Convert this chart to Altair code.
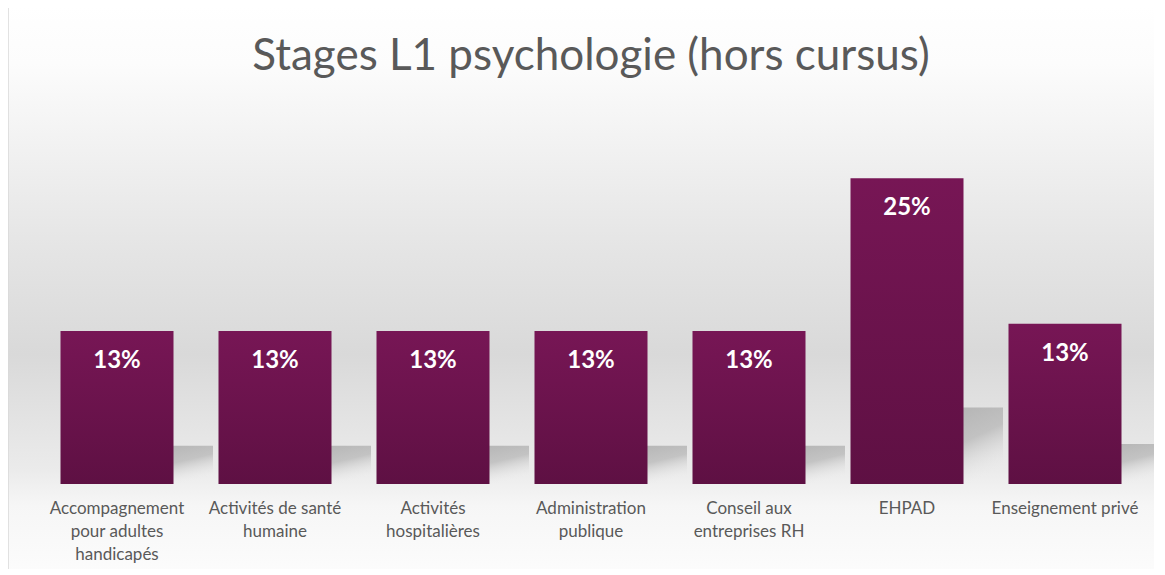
import altair as alt
import pandas as pd

categories = [
    "Accompagnement|pour adultes|handicapés",
    "Activités de santé|humaine",
    "Activités|hospitalières",
    "Administration|publique",
    "Conseil aux|entreprises RH",
    "EHPAD",
    "Enseignement privé",
]
values = [12.5, 12.5, 12.5, 12.5, 12.5, 25.0, 13.1]
labels = ["13%", "13%", "13%", "13%", "13%", "25%", "13%"]
title_text = "Stages L1 psychologie (hors cursus)"

df = pd.DataFrame({"cat": categories, "val": values, "lab": labels})

W = 1106
H = 367
FONT = "Lato"

x_enc = alt.X(
    "cat:N",
    sort=None,
    scale=alt.Scale(paddingInner=0.285, paddingOuter=0.1425),
    axis=alt.Axis(
        title=None,
        labelAngle=0,
        domain=False,
        ticks=False,
        labelExpr="split(datum.value, '|')",
        labelFont=FONT,
        labelFontSize=17,
        labelColor="#595959",
        labelPadding=16,
        labelLineHeight=23,
        labelBaseline="top",
        zindex=2,
    ),
)
y_scale = alt.Scale(domain=[0, 30])

bg = alt.Chart(pd.DataFrame({"a": [0]})).mark_rect(
    fill=alt.Gradient(
        gradient="linear",
        x1=0, y1=0, x2=0, y2=1,
        stops=[
            alt.GradientStop(offset=0.0, color="#ffffff"),
            alt.GradientStop(offset=0.10, color="#fcfcfc"),
            alt.GradientStop(offset=0.40, color="#e6e6e6"),
            alt.GradientStop(offset=0.60, color="#d9d9d9"),
            alt.GradientStop(offset=0.80, color="#ebebeb"),
            alt.GradientStop(offset=0.86, color="#f6f6f6"),
            alt.GradientStop(offset=1.0, color="#fdfdfd"),
        ],
    ),
    stroke="#d9d9d9",
    strokeWidth=1.5,
).encode(
    x=alt.value(-30), x2=alt.value(1125),
    y=alt.value(-112), y2=alt.value(470),
)

shadow = alt.Chart(df).transform_calculate(
    sh="datum.val * 0.25"
).mark_bar(
    xOffset=48,
    size=96,
    fill=alt.Gradient(
        gradient="linear",
        x1=0.1, y1=0, x2=0.7, y2=1,
        stops=[
            alt.GradientStop(offset=0.0, color="rgba(200,200,200,0)"),
            alt.GradientStop(offset=0.2, color="rgba(170,170,170,0.8)"),
            alt.GradientStop(offset=0.55, color="rgba(175,175,175,0.65)"),
            alt.GradientStop(offset=1.0, color="rgba(240,240,240,0)"),
        ],
    ),
).encode(x=x_enc, y=alt.Y("sh:Q", scale=y_scale, axis=None))

bars = alt.Chart(df).mark_bar(
    size=113,
    fill=alt.Gradient(
        gradient="linear",
        x1=0, y1=0, x2=0, y2=1,
        stops=[
            alt.GradientStop(offset=0.0, color="#771655"),
            alt.GradientStop(offset=1.0, color="#5e1043"),
        ],
    ),
).encode(
    x=x_enc,
    y=alt.Y("val:Q", scale=y_scale, axis=None),
)

text = alt.Chart(df).mark_text(
    baseline="middle",
    dy=30,
    font=FONT,
    fontSize=24,
    fontWeight="bold",
    color="#ffffff",
).encode(
    x=x_enc,
    y=alt.Y("val:Q", scale=y_scale, axis=None),
    text="lab:N",
)

title = alt.Chart(pd.DataFrame({"t": [title_text]})).mark_text(
    font=FONT,
    fontSize=44,
    color="#595959",
    baseline="middle",
    align="center",
).encode(text="t:N", x=alt.value(W / 2), y=alt.value(-60))

chart = alt.layer(bg, shadow, bars, text, title).properties(
    width=W,
    height=H,
    autosize=alt.AutoSizeParams(type="none"),
    padding={"left": 30, "top": 109, "right": 10, "bottom": 85},
).configure_view(strokeWidth=0)

chart.save("out.html", embed_options={"renderer": "svg", "actions": False})
